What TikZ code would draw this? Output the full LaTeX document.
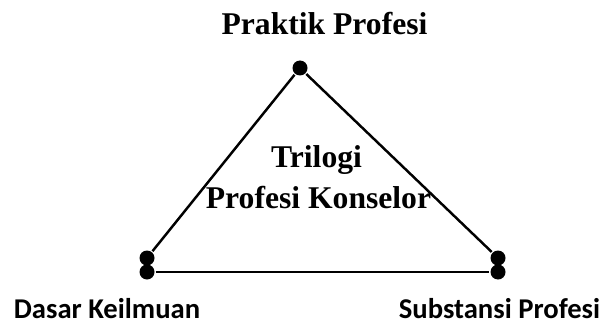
\documentclass[tikz,border=0pt]{standalone}
\usepackage{fontspec}
\setmainfont{Liberation Serif}
\newfontfamily\carlito{Carlito}

\begin{document}
\begin{tikzpicture}[line width=1.4pt,
    dot/.style={circle, fill, inner sep=0pt, minimum size=0.3cm},
    serif/.style={font=\fontsize{18}{22}\selectfont\bfseries, inner sep=0pt, anchor=base},
    sans/.style={font=\carlito\fontsize{16.3}{20}\selectfont\bfseries, inner sep=0pt, anchor=base}]
  \useasboundingbox (0,0) rectangle (12.1,6.52);

  \node[dot] (praktik) at (6.0,5.16) {};
  \node[dot] (dasarA) at (2.94,1.36) {};
  \node[dot] (dasarB) at (2.94,1.08) {};
  \node[dot] (substA) at (9.96,1.36) {};
  \node[dot] (substB) at (9.96,1.08) {};

  \draw (praktik) -- (dasarA);
  \draw (praktik) -- (substA);
  \draw (dasarB) -- (substB);

  \node[serif] (tpraktik) at (6.49,5.82) {Praktik Profesi};
  \node[serif] (trilogi) at (6.33,3.18) {Trilogi};
  \node[serif] (konselor) at (6.37,2.36) {Profesi Konselor};
  \node[sans] (tdasar) at (2.14,0.16) {Dasar Keilmuan};
  \node[sans] (tsubst) at (9.99,0.16) {Substansi Profesi};
\end{tikzpicture}
\end{document}
